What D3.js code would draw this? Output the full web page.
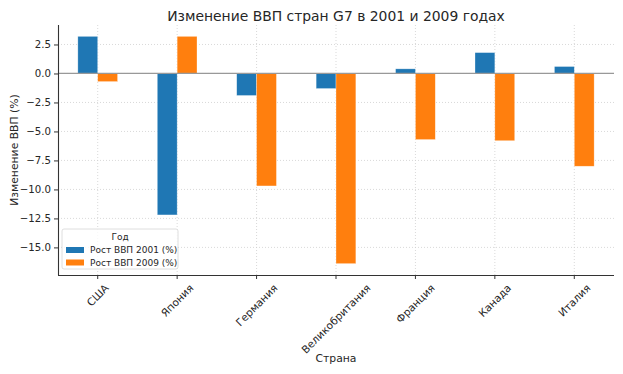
<!DOCTYPE html>
<html>
<head>
<meta charset="utf-8">
<script src="https://cdn.jsdelivr.net/npm/d3@7"></script>
<style>
  body { margin: 0; background: #fff; }
  svg { font-family: "DejaVu Sans", sans-serif; }
</style>
</head>
<body>
<script>
var width = 623
var height = 374

// data
var countries = ["США", "Япония", "Германия", "Великобритания", "Франция", "Канада", "Италия"]
var growth2001 = [3.2, -12.2, -1.9, -1.3, 0.4, 1.8, 0.6]
var growth2009 = [-0.7, 3.2, -9.7, -16.4, -5.7, -5.8, -8.0]
var seriesNames = ["Рост ВВП 2001 (%)", "Рост ВВП 2009 (%)"]
var yTicks = [2.5, 0, -2.5, -5, -7.5, -10, -12.5, -15]

var colors = ["#1f77b4", "#ff7f0e"]
var margin = {left: 58, right: 9, top: 25, bottom: 99}

var svg = d3.select("body").append("svg")
            .attr("width", width)
            .attr("height", height)

var x = d3.scaleBand()
          .domain(countries)
          .range([margin.left, width - margin.right])
          .padding(0)

var bw = x.bandwidth()
var xSub = d3.scaleBand()
             .domain([0, 1])
             .range([bw * 0.25, bw * 0.75])
             .padding(0)

var y = d3.scaleLinear()
          .domain([-17.38, 4.18])
          .range([height - margin.bottom, margin.top])

var plot = svg.append("g")

// grid
plot.selectAll(".hgrid")
    .data(yTicks)
    .enter()
      .append("line")
      .attr("x1", margin.left)
      .attr("x2", width - margin.right)
      .attr("y1", function(d) {return y(d)})
      .attr("y2", function(d) {return y(d)})
      .attr("stroke", "#cfcfcf")
      .attr("stroke-width", 0.8)
      .attr("stroke-dasharray", "1,2")

plot.selectAll(".vgrid")
    .data(countries)
    .enter()
      .append("line")
      .attr("x1", function(d) {return x(d) + bw / 2})
      .attr("x2", function(d) {return x(d) + bw / 2})
      .attr("y1", margin.top)
      .attr("y2", height - margin.bottom)
      .attr("stroke", "#cfcfcf")
      .attr("stroke-width", 0.8)
      .attr("stroke-dasharray", "1,2")

// bars
var rows = countries.map(function(c, i) {return [growth2001[i], growth2009[i]]})

var groups = plot.selectAll(".grp")
                 .data(rows)
                 .enter()
                   .append("g")
                   .attr("transform", function(d, i) {return "translate(" + x(countries[i]) + ",0)"})

groups.selectAll("rect")
      .data(function(d) {return d})
      .enter()
        .append("rect")
        .attr("x", function(d, j) {return xSub(j)})
        .attr("width", xSub.bandwidth())
        .attr("y", function(d) {return y(Math.max(0, d))})
        .attr("height", function(d) {return Math.abs(y(d) - y(0))})
        .attr("fill", function(d, j) {return colors[j]})
        .attr("stroke", "#fff")
        .attr("stroke-opacity", 0.5)
        .attr("stroke-width", 0.6)

// zero line
plot.append("line")
    .attr("x1", margin.left)
    .attr("x2", width - margin.right)
    .attr("y1", y(0))
    .attr("y2", y(0))
    .attr("stroke", "#999")
    .attr("stroke-width", 1.2)

// axes
var yAxis = svg.append("g")
               .attr("transform", "translate(" + margin.left + ",0)")
               .call(d3.axisLeft(y).tickValues(yTicks).tickFormat(d3.format(".1f")).tickSize(4).tickPadding(3))
var xAxis = svg.append("g")
               .attr("transform", "translate(0," + (height - margin.bottom) + ")")
               .call(d3.axisBottom(x).tickSize(4).tickPadding(3))

;[yAxis, xAxis].forEach(function(a) {
  a.select(".domain").attr("stroke", "#333").attr("stroke-width", 1.1)
  a.selectAll(".tick line").attr("stroke", "#333")
  a.selectAll("text").attr("fill", "#262626").attr("font-size", "10.2px").attr("font-family", "DejaVu Sans")
})
yAxis.select(".domain").attr("d", "M0.5," + margin.top + "V" + (height - margin.bottom))
xAxis.select(".domain").attr("d", "M" + margin.left + ",0.5H" + (width - margin.right))

// rotated labels, centred on the tick like matplotlib's rot=45
xAxis.selectAll(".tick text")
     .attr("font-size", "10.5px")
     .attr("text-anchor", "middle")
     .attr("dy", "0.35em")
     .attr("y", 0)
     .attr("x", 0)
     .attr("transform", function() {
        var L = this.getComputedTextLength()
        var half = (L + 9) / (2 * Math.SQRT2)
        return "translate(0," + (8 + half) + ") rotate(-45)"
     })

// title and labels
svg.append("text")
   .text("Изменение ВВП стран G7 в 2001 и 2009 годах")
   .attr("x", (margin.left + width - margin.right) / 2)
   .attr("y", 21)
   .attr("text-anchor", "middle")
   .attr("font-size", "13.9px")
   .attr("fill", "#262626")

svg.append("text")
   .text("Страна")
   .attr("x", (margin.left + width - margin.right) / 2)
   .attr("y", 362)
   .attr("text-anchor", "middle")
   .attr("font-size", "10.8px")
   .attr("fill", "#262626")

svg.append("text")
   .text("Изменение ВВП (%)")
   .attr("transform", "translate(18," + ((margin.top + height - margin.bottom) / 2) + ") rotate(-90)")
   .attr("text-anchor", "middle")
   .attr("font-size", "10.8px")
   .attr("fill", "#262626")

// legend
var legend = svg.append("g").attr("transform", "translate(62,229)")
legend.append("rect")
      .attr("width", 116)
      .attr("height", 40)
      .attr("rx", 2)
      .attr("fill", "#fff")
      .attr("fill-opacity", 0.8)
      .attr("stroke", "#d6d6d6")
      .attr("stroke-width", 0.8)
legend.append("text")
      .text("Год")
      .attr("x", 58)
      .attr("y", 11)
      .attr("text-anchor", "middle")
      .attr("font-size", "9px")
      .attr("fill", "#262626")
var items = legend.selectAll(".item")
                  .data(seriesNames)
                  .enter()
                    .append("g")
                    .attr("transform", function(d, i) {return "translate(0," + (21 + i * 12.5) + ")"})
items.append("rect")
     .attr("x", 4)
     .attr("y", -3)
     .attr("width", 18)
     .attr("height", 6)
     .attr("fill", function(d, i) {return colors[i]})
items.append("text")
     .text(function(d) {return d})
     .attr("x", 28)
     .attr("y", 3.3)
     .attr("font-size", "9px")
     .attr("fill", "#262626")
</script>
</body>
</html>
